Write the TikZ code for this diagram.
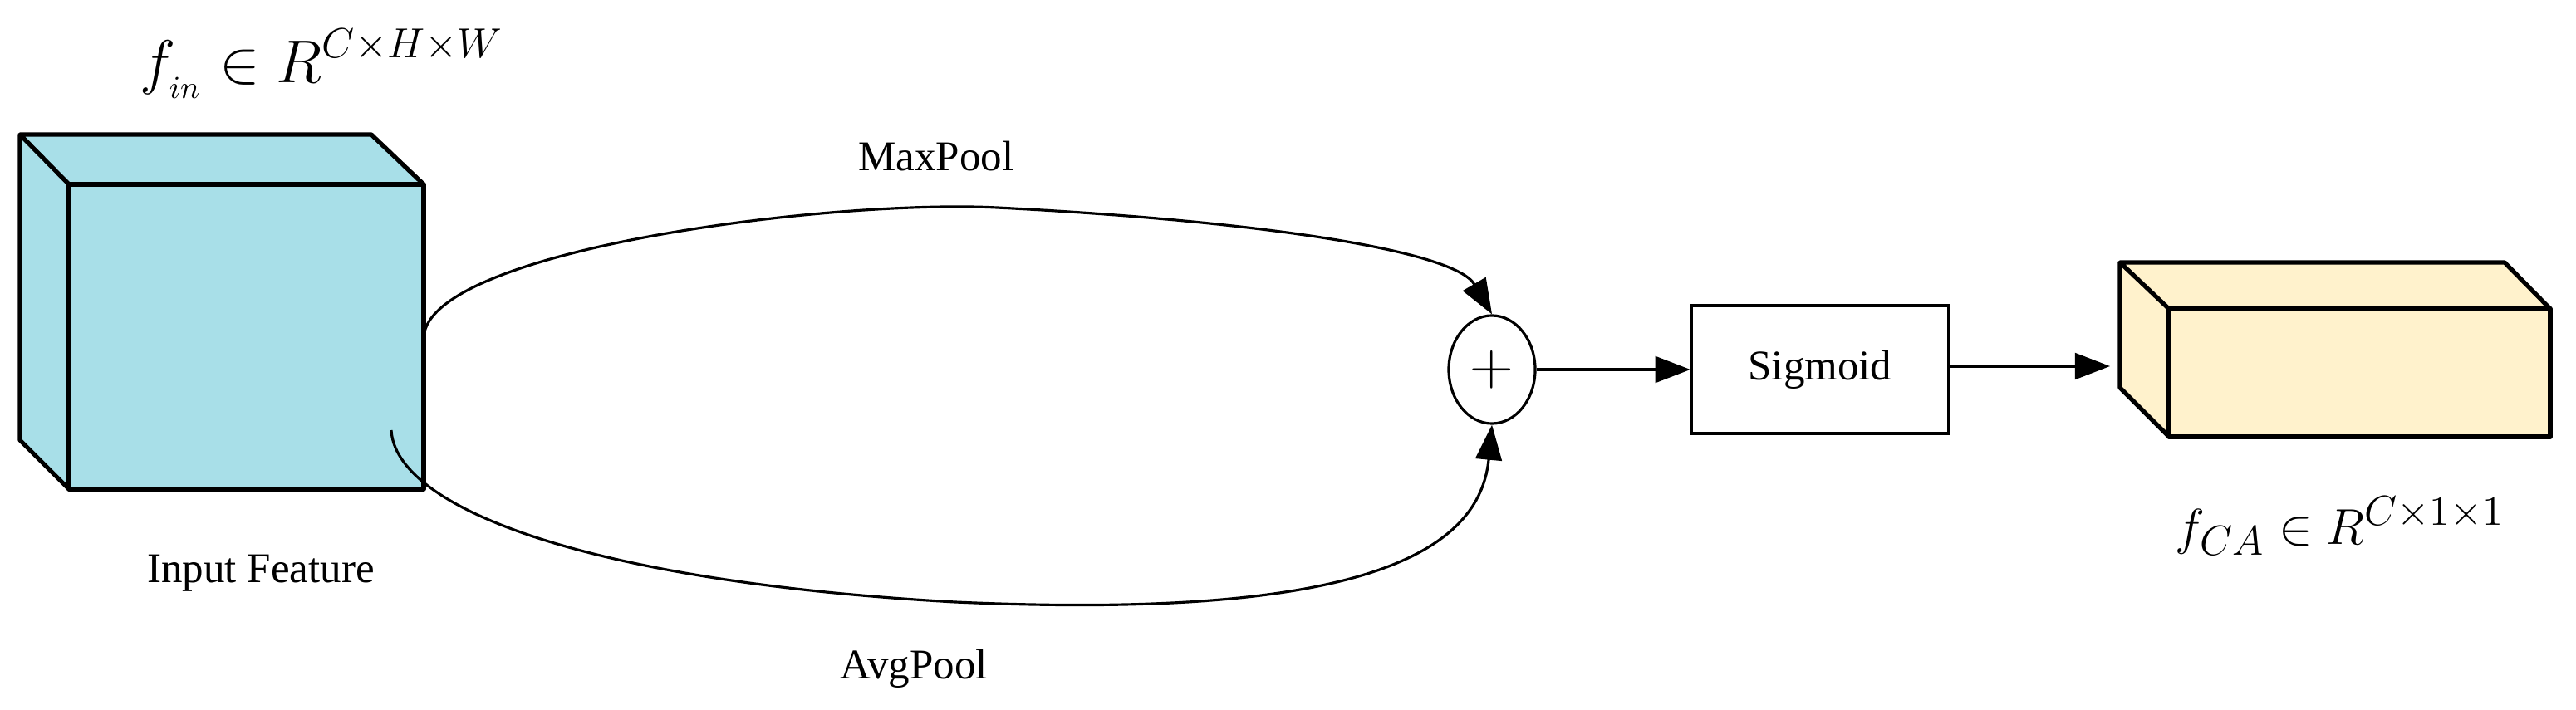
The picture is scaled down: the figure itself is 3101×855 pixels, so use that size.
\documentclass[tikz,border=0pt]{standalone}
\usepackage{fontspec}
\setmainfont{Liberation Serif}
\usetikzlibrary{arrows.meta,shapes.geometric}
\begin{document}
\begin{tikzpicture}[x=0.01cm,y=-0.01cm,
  edge/.style={line width=1.5pt,line join=round},
  conn/.style={line width=0.9pt},
  arr/.style={conn,-{Triangle[length=12pt,width=9pt]}},
  lbl/.style={font=\fontsize{14.5}{17}\selectfont,inner sep=0pt}]
\useasboundingbox (0,0) rectangle (3101,855);
% input cube
\fill[fill={rgb,255:red,168;green,223;blue,232}]
  (24,162) -- (447,162) -- (510,222) -- (510,589) -- (83,589) -- (24,530) -- cycle;
\draw[edge] (24,162) -- (447,162) -- (510,222) -- (83,222) -- cycle;
\draw[edge] (24,162) -- (24,530) -- (83,589) -- (83,222);
\draw[edge] (83,222) rectangle (510,589);
\node[inner sep=0pt,anchor=base west] (fin) at (168,100) {\fontsize{22}{22}\selectfont$\displaystyle f_{{}_{in}}\in R^{C\times H\times W}$};
\node[lbl] (inlbl) at (314,690) {Input Feature};
% plus
\node[ellipse,draw,line width=0.9pt,minimum width=104pt*0.2845,minimum height=130pt*0.2845,inner sep=0pt] (plus) at (1796,445) {\fontsize{20}{20}\selectfont $+$};
% sigmoid
\node[draw,line width=0.9pt,minimum width=309*0.2845pt,minimum height=154*0.2845pt,lbl] (sig) at (2191,445) {Sigmoid};
% output cube
\fill[fill={rgb,255:red,255;green,242;blue,204}] (2552,316) -- (3015,316) -- (3070,372) -- (3070,526) -- (2611,526) -- (2552,467) -- cycle;
\draw[edge] (2552,316) -- (3015,316) -- (3070,372) -- (2611,372) -- cycle;
\draw[edge] (2552,316) -- (2552,467) -- (2611,526) -- (2611,372);
\draw[edge] (2611,372) rectangle (3070,526);
\coordinate (outin) at (2540,441);
\node[inner sep=0pt,anchor=base west] (fca) at (2618,655) {\fontsize{19}{19}\selectfont$f_{CA}\in R^{C\times 1\times 1}$};
% labels
\node[lbl] (mp) at (1127,188) {MaxPool};
\node[lbl] (ap) at (1100,805) {AvgPool};
% connectors
\coordinate (s1) at (510,405);
\coordinate (s2) at (471,518);
\draw[arr] (s1) .. controls (520,300) and (1000,240) .. (1200,250) .. controls (1500,265) and (1750,300) .. (plus.north);
\draw[arr] (s2) .. controls (476,610) and (700,700) .. (1150,725) .. controls (1600,745) and (1780,680) .. (plus.south);
\draw[arr] (plus.east) -- (sig.west);
\draw[arr] (sig.east |- outin) -- (outin);
\end{tikzpicture}
\end{document}
